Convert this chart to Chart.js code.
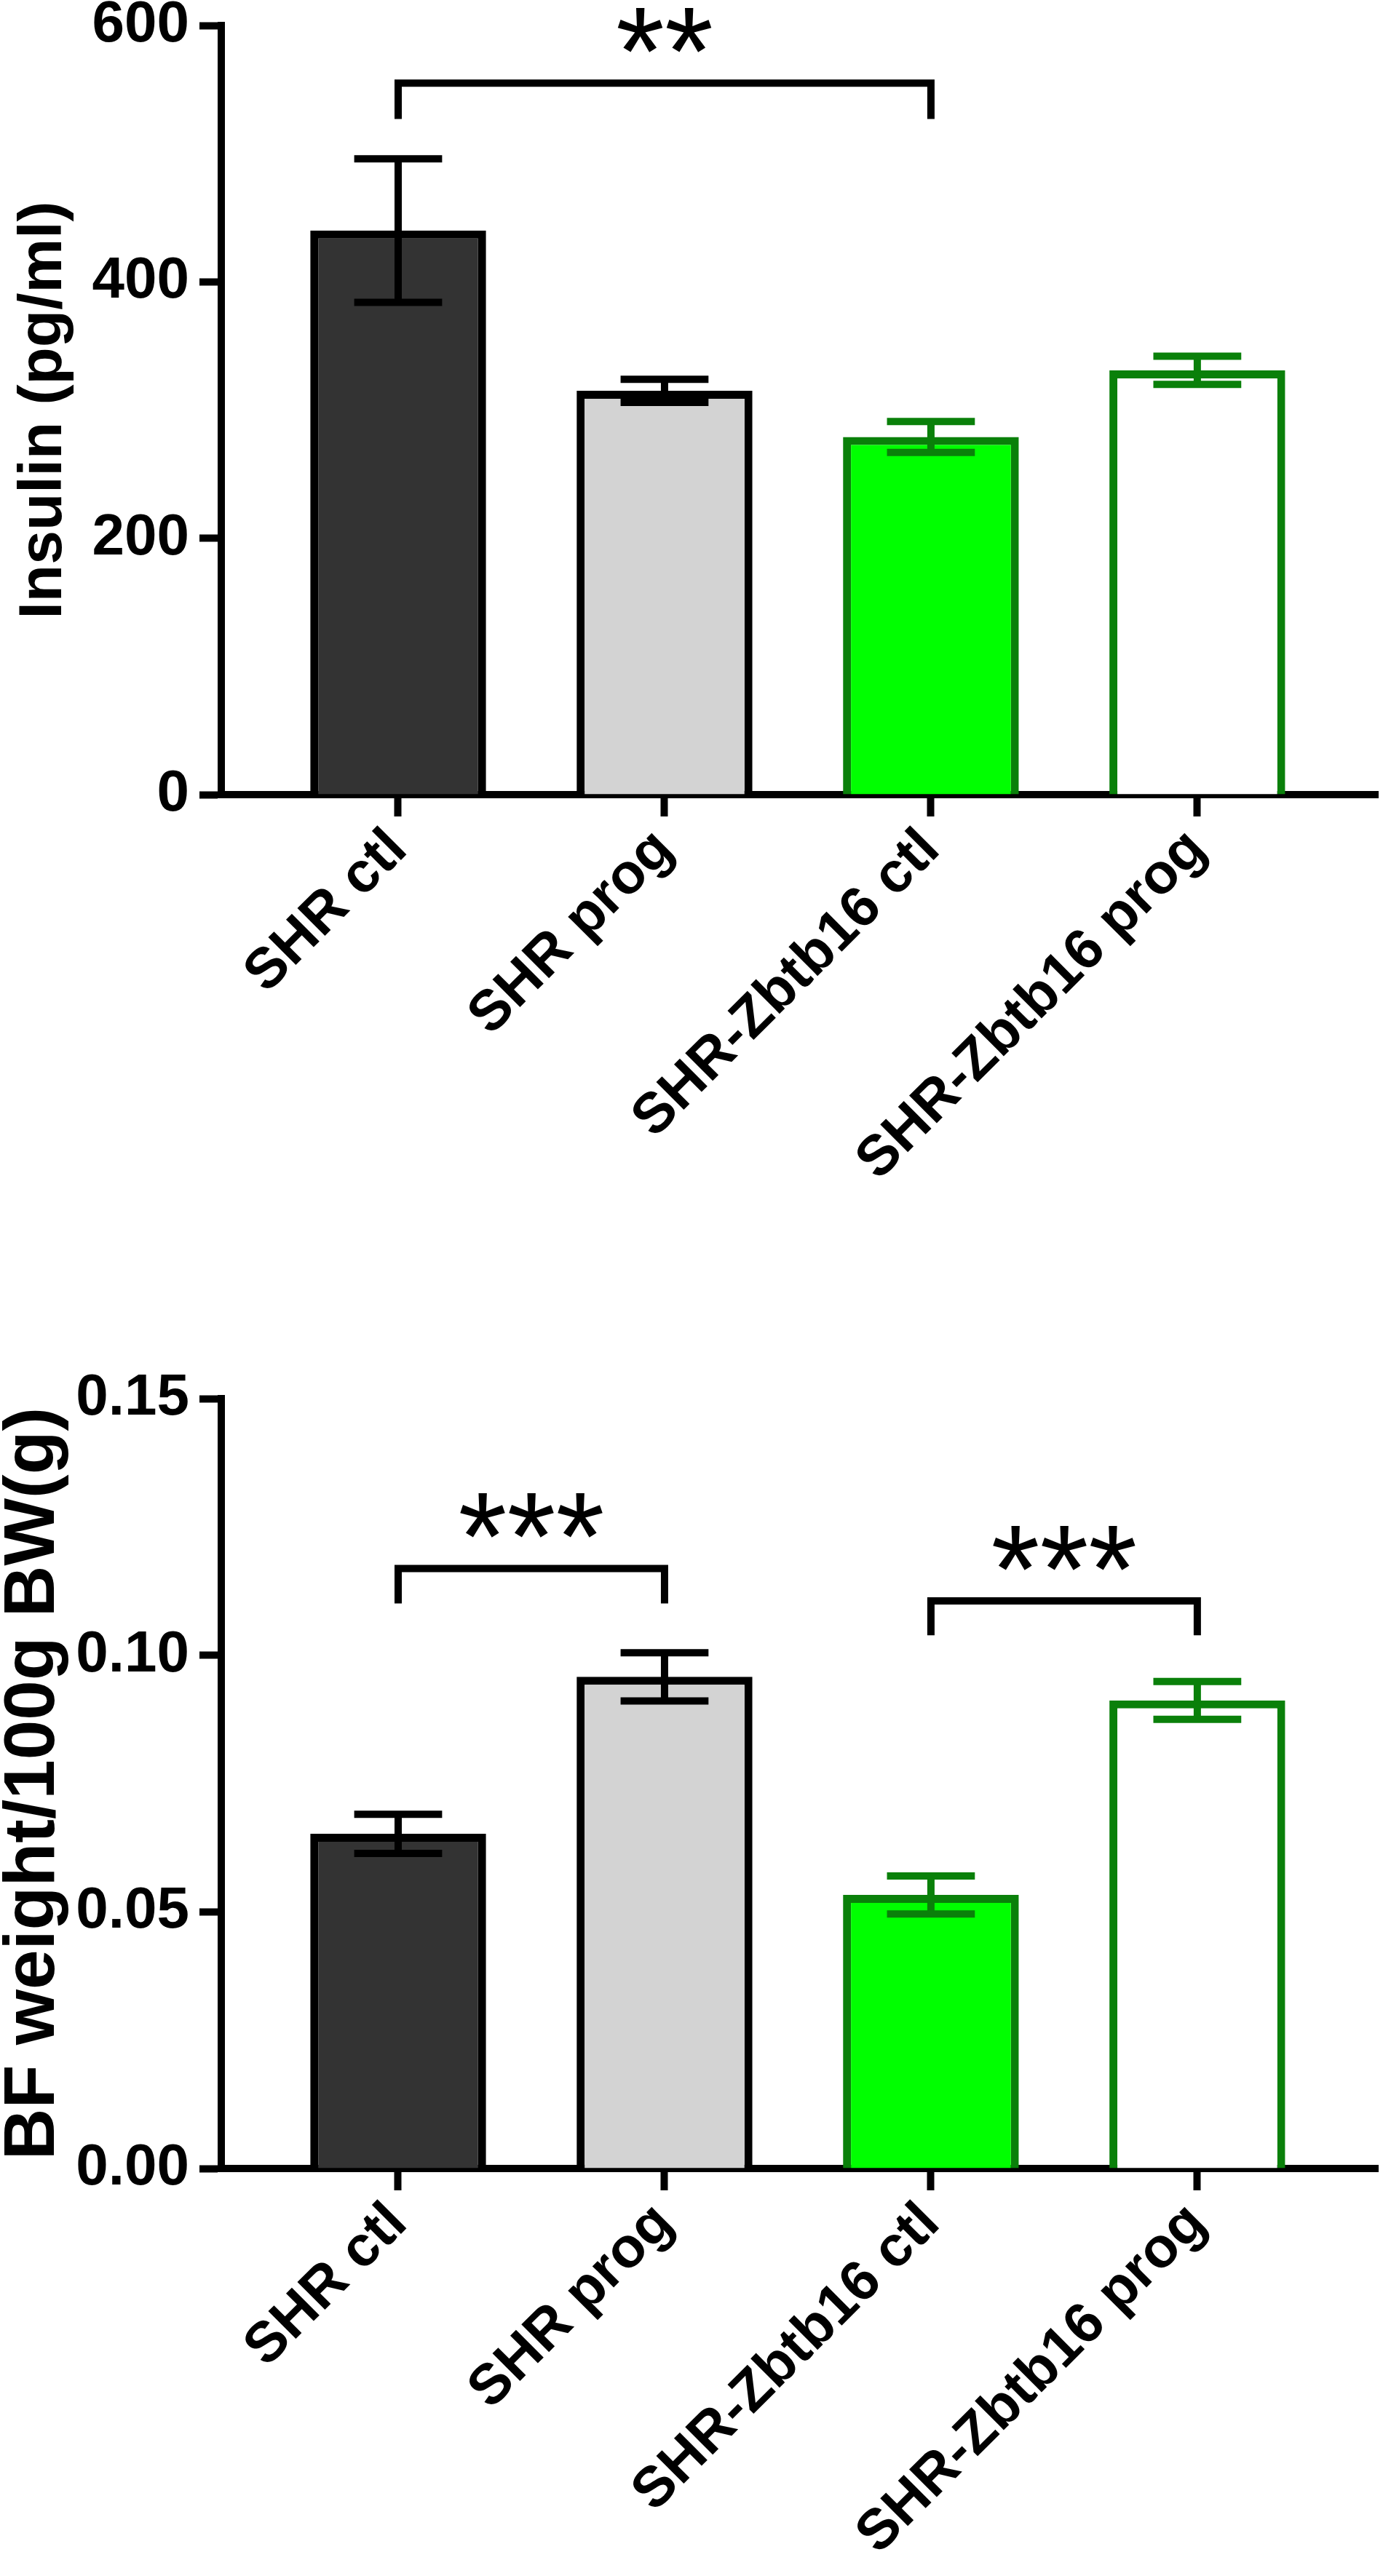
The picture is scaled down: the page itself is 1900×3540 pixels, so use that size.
<!DOCTYPE html>
<html>
<head>
<meta charset="utf-8">
<script src="https://cdn.jsdelivr.net/npm/chart.js@4.4.1/dist/chart.umd.min.js"></script>
<style>
  html, body { margin: 0; padding: 0; background: #fff; }
  .panel { position: absolute; left: 0; width: 1900px; height: 1770px; }
  #insulin-panel { top: 0; }
  #bf-panel { top: 1770px; }
</style>
</head>
<body>
<div class="panel" id="insulin-panel"><canvas id="insulin-canvas" width="1900" height="1770"></canvas></div>
<div class="panel" id="bf-panel"><canvas id="bf-canvas" width="1900" height="1770"></canvas></div>
<script>
const groups = ['SHR ctl', 'SHR prog', 'SHR-Zbtb16 ctl', 'SHR-Zbtb16 prog'];

const insulinMean = [440, 315, 279, 331];
const insulinSem = [56, 9, 12, 11];
const insulinTicks = [0, 200, 400, 600];
// [from group, to group, bracket value, leg end value, stars]
const insulinSig = [[0, 2, 555, 527, '**']];

const bfMean = [0.0652, 0.0958, 0.0533, 0.0912];
const bfSem = [0.0038, 0.0047, 0.0037, 0.0037];
const bfTicks = [0, 0.05, 0.10, 0.15];
const bfSig = [[0, 1, 0.1169, 0.1101, '***'], [2, 3, 0.1106, 0.1039, '***']];

const fills = ['#333333', '#d3d3d3', '#00ff00', '#ffffff'];
const edges = ['#000000', '#000000', '#0a800a', '#0a800a'];

const FONT = "'Liberation Sans', Arial, Helvetica, sans-serif";

// error bars + significance brackets, positioned through the chart scales
const errorBars = {
  id: 'errorBars',
  afterDraw(chart, args, opts) {
    const ctx = chart.ctx;
    const y = chart.scales.y;
    const x = chart.scales.x;
    const meta = chart.getDatasetMeta(0);
    ctx.save();
    ctx.lineWidth = 10;
    ctx.lineCap = 'butt';
    opts.sem.forEach((s, i) => {
      const bar = meta.data[i];
      const m = opts.mean[i];
      const top = y.getPixelForValue(m + s);
      const bot = y.getPixelForValue(m - s);
      const half = bar.width / 4;
      ctx.strokeStyle = edges[i];
      ctx.beginPath();
      ctx.moveTo(bar.x, top);
      ctx.lineTo(bar.x, bot);
      ctx.moveTo(bar.x - half, top);
      ctx.lineTo(bar.x + half, top);
      ctx.moveTo(bar.x - half, bot);
      ctx.lineTo(bar.x + half, bot);
      ctx.stroke();
    });

    ctx.strokeStyle = '#000';
    ctx.fillStyle = '#000';
    ctx.lineJoin = 'miter';
    opts.sig.forEach(([a, b, v, leg, stars]) => {
      const x0 = x.getPixelForValue(a);
      const x1 = x.getPixelForValue(b);
      const yb = y.getPixelForValue(v);
      const yl = y.getPixelForValue(leg);
      ctx.beginPath();
      ctx.moveTo(x0, yl);
      ctx.lineTo(x0, yb);
      ctx.lineTo(x1, yb);
      ctx.lineTo(x1, yl);
      ctx.stroke();
      ctx.font = `172px ${FONT}`;
      ctx.textAlign = 'center';
      ctx.textBaseline = 'alphabetic';
      ctx.fillText(stars, (x0 + x1) / 2, yb + 16);
    });
    ctx.restore();
  }
};

function makeChart(canvasId, cfg) {
  const canvas = document.getElementById(canvasId);
  return new Chart(canvas, {
    type: 'bar',
    data: {
      datasets: [{
        data: cfg.mean.map((v, i) => ({ x: i, y: v })),
        backgroundColor: fills,
        borderColor: edges,
        borderWidth: 11,
        borderSkipped: 'start',
        barPercentage: 0.66,
        categoryPercentage: 1
      }]
    },
    options: {
      responsive: false,
      animation: false,
      devicePixelRatio: 1,
      layout: { padding: { top: cfg.top, right: 7, left: 0, bottom: 0 } },
      plugins: {
        legend: { display: false },
        tooltip: { enabled: false },
        errorBars: { mean: cfg.mean, sem: cfg.sem, sig: cfg.sig }
      },
      scales: {
        x: {
          type: 'linear',
          min: -0.664,
          max: 3.678,
          offset: false,
          z: 1,
          grid: { offset: false, drawOnChartArea: false, tickLength: 30, tickWidth: 10, tickColor: '#000' },
          border: { color: '#000', width: 10 },
          ticks: {
            autoSkip: false,
            maxRotation: 45,
            minRotation: 45,
            padding: 0,
            color: '#000',
            font: { family: FONT, size: 78, weight: 'bold' },
            callback: v => groups[v]
          },
          afterBuildTicks: s => { s.ticks = groups.map((g, i) => ({ value: i })); },
          afterFit: s => {
            s.height = canvas.height - cfg.bottom;
            s.paddingLeft = 0;
            s.paddingRight = 0;
          }
        },
        y: {
          type: 'linear',
          min: cfg.ticks[0],
          max: cfg.ticks[cfg.ticks.length - 1],
          z: 1,
          grid: { drawOnChartArea: false, tickLength: 30, tickWidth: 10, tickColor: '#000' },
          border: { color: '#000', width: 10 },
          ticks: {
            padding: 14,
            color: '#000',
            font: { family: FONT, size: 80, weight: 'bold' },
            callback: cfg.format
          },
          afterBuildTicks: s => { s.ticks = cfg.ticks.map(v => ({ value: v })); },
          title: {
            display: true,
            text: cfg.title,
            color: '#000',
            font: { family: FONT, size: cfg.titleSize, weight: 'bold', lineHeight: 1 },
            padding: { top: cfg.titlePad, bottom: 0 }
          },
          afterFit: s => {
            s.width = 304;
            s.paddingTop = 0;
            s.paddingBottom = 0;
          }
        }
      }
    },
    plugins: [errorBars]
  });
}

makeChart('insulin-canvas', {
  mean: insulinMean, sem: insulinSem, ticks: insulinTicks, sig: insulinSig,
  title: 'Insulin (pg/ml)', titleSize: 84, titlePad: 19,
  top: 35, bottom: 1092,
  format: v => String(v)
});

makeChart('bf-canvas', {
  mean: bfMean, sem: bfSem, ticks: bfTicks, sig: bfSig,
  title: 'BF weight/100g BW(g)', titleSize: 98, titlePad: -2,
  top: 152, bottom: 1210,
  format: v => v.toFixed(2)
});
</script>
</body>
</html>
